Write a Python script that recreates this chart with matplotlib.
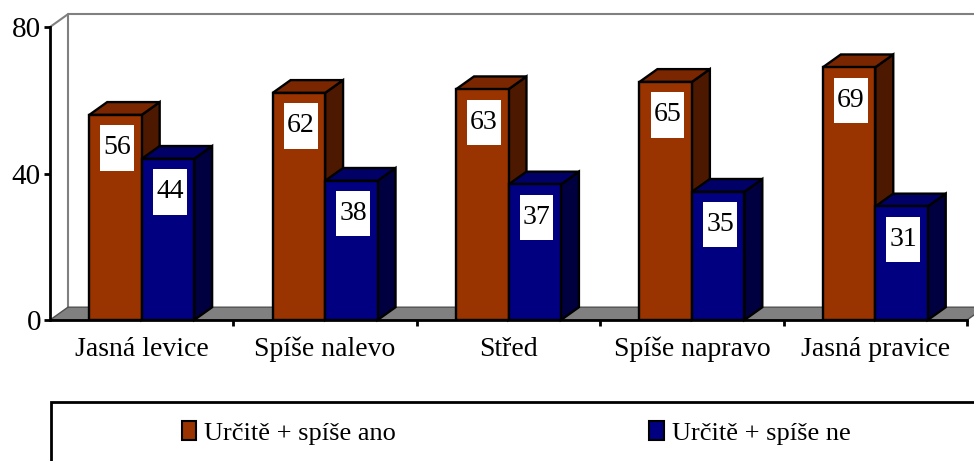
import matplotlib.pyplot as plt
from matplotlib.patches import Polygon, Rectangle, Patch

categories = ['Jasná levice', 'Spíše nalevo', 'Střed', 'Spíše napravo', 'Jasná pravice']
ano_values = [56, 62, 63, 65, 69]
ne_values = [44, 38, 37, 35, 31]
series_names = ['Určitě + spíše ano', 'Určitě + spíše ne']

# front, top, side colours for each series
ano_colors = ('#993300', '#7a2600', '#4d1800')
ne_colors = ('#000080', '#000066', '#000040')

plt.rcParams['font.family'] = ['Liberation Serif', 'DejaVu Serif']

bar_w = 0.286
dx = 0.098   # depth offset, category units
dy = 3.5     # depth offset, value units


def draw_bar(ax, x0, value, colors):
    x1 = x0 + bar_w
    front, top, side = colors
    ax.add_patch(Polygon([(x1, 0), (x1 + dx, dy), (x1 + dx, value + dy), (x1, value)],
                         closed=True, facecolor=side, edgecolor='black', lw=1.7, zorder=3, clip_on=False))
    ax.add_patch(Polygon([(x0, value), (x0 + dx, value + dy), (x1 + dx, value + dy), (x1, value)],
                         closed=True, facecolor=top, edgecolor='black', lw=1.7, zorder=3, clip_on=False))
    ax.bar(x0, value, width=bar_w, align='edge', color=front, edgecolor='black', lw=1.7, zorder=3)


def draw_label(ax, xc, value):
    ax.add_patch(Rectangle((xc - 0.092, value - 9 - 6.2), 0.184, 12.4, facecolor='white',
                           edgecolor='none', zorder=4))
    ax.text(xc, value - 9, str(value), ha='center', va='center', fontsize=20, zorder=5)


fig = plt.figure(figsize=(9.74, 4.61), dpi=100)
ax = fig.add_axes([50 / 974, 1 - 320 / 461, 917 / 974, 293 / 461])
ax.set_xlim(-0.5, 4.5)
ax.set_ylim(0, 80)

# floor and back wall
ax.add_patch(Polygon([(-0.5, 0), (-0.5 + dx, dy), (4.5 + dx, dy), (4.5, 0)], closed=True,
                     facecolor='#808080', edgecolor='#505050', lw=1, zorder=1, clip_on=False))
wall = dict(color='#808080', lw=1.5, zorder=0, clip_on=False)
ax.plot([-0.5 + dx, -0.5 + dx, 4.5 + dx, 4.5 + dx], [dy, 80 + dy, 80 + dy, dy], **wall)
ax.plot([-0.5, -0.5 + dx], [80, 80 + dy], **wall)

for i in range(len(categories)):
    draw_bar(ax, i - bar_w, ano_values[i], ano_colors)
    draw_bar(ax, i, ne_values[i], ne_colors)
    draw_label(ax, i - bar_w / 2 + 0.01, ano_values[i])
    draw_label(ax, i + bar_w / 2 + 0.01, ne_values[i])

for s in ['top', 'right']:
    ax.spines[s].set_visible(False)
for s in ['left', 'bottom']:
    ax.spines[s].set_linewidth(2)
    ax.spines[s].set_zorder(6)

ax.set_yticks([0, 40, 80])
ax.tick_params(axis='y', direction='out', length=4.5, width=2, labelsize=21, pad=2)
ax.set_xticks(range(len(categories)))
ax.set_xticklabels(categories)
ax.set_xticks([i + 0.5 for i in range(len(categories))], minor=True)
ax.tick_params(axis='x', which='major', length=0, labelsize=20, pad=12)
ax.tick_params(axis='x', which='minor', direction='out', length=4.5, width=2)

# legend box, runs off the right and bottom edge
fig.patches.append(Rectangle((51 / 974, -0.2), 1.0, 0.2 + 1 - 402 / 461, transform=fig.transFigure,
                             fill=False, edgecolor='black', lw=2))
handles = [Patch(facecolor=ano_colors[0], edgecolor='black', lw=1.5),
           Patch(facecolor=ne_colors[0], edgecolor='black', lw=1.5)]
fig.legend(handles, series_names, loc='center left', bbox_to_anchor=(171 / 974, 1 - 433 / 461),
           ncol=2, frameon=False, fontsize=19, handlelength=0.55, handleheight=0.75,
           handletextpad=0.3, columnspacing=9.6, borderaxespad=0)

fig.savefig('out.png', dpi=100)
